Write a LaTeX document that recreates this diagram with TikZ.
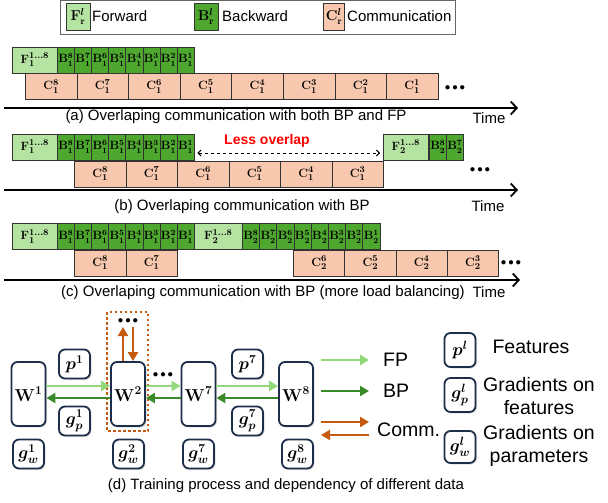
\documentclass[tikz,border=0pt]{standalone}
\usepackage{amsmath}
\usepackage{fontspec}
\newfontfamily\arialfont{Liberation Sans}
\usepackage{xcolor}
\usepackage{tikz}
\usetikzlibrary{arrows.meta, positioning, shadows}

\definecolor{fwdgreen}{HTML}{B5E3A2}
\definecolor{bwdgreen}{HTML}{4EA72E}
\definecolor{commsalmon}{HTML}{F7C8AE}
\definecolor{fparrow}{HTML}{92D87A}
\definecolor{bparrow}{HTML}{3B8A2A}
\definecolor{commorange}{HTML}{C55A11}
\definecolor{boxnavy}{HTML}{1C2E4A}

\begin{document}
\begin{tikzpicture}[
      x=1pt, y=-1pt,
      txt/.style={font=\arialfont\fontsize{15}{17}\selectfont, inner sep=0},
      bigtxt/.style={font=\arialfont\fontsize{19.5}{23}\selectfont, inner sep=0, align=center},
      slot/.style={draw=black!80, line width=0.6pt, minimum height=26, inner sep=0, anchor=west,
        font=\fontsize{12.5}{13}\selectfont\boldmath},
      fwdslot/.style={slot, fill=fwdgreen, minimum width=45},
      bwdslot/.style={slot, fill=bwdgreen, minimum width=17.1, font=\fontsize{11.5}{12}\selectfont\boldmath},
      comslot/.style={slot, fill=commsalmon, minimum width=51.5},
      dotsnode/.style={font=\fontsize{11}{11}\selectfont, inner sep=0},
      timeaxis/.style={line width=1.8pt, -{Straight Barb[length=6pt, width=13pt]}},
      gapline/.style={dashed, line width=1pt, {Straight Barb[length=3pt, width=6pt]}-{Straight Barb[length=3pt, width=6pt]}, shorten <=3pt, shorten >=3pt},
      wnode/.style={draw=boxnavy, line width=1.8pt, rounded corners=6pt, fill=white, minimum width=34,
        minimum height=64, inner sep=0, font=\fontsize{17.5}{18}\selectfont\boldmath,
        drop shadow={opacity=0.25, shadow xshift=1.5pt, shadow yshift=-1.5pt}},
      dnode/.style={wnode, minimum width=31, minimum height=29, font=\fontsize{16.5}{17}\selectfont\boldmath},
      fparr/.style={fparrow, line width=2.6pt, -{Triangle[length=9pt, width=10pt]}},
      bparr/.style={bparrow, line width=2.6pt, -{Triangle[length=9pt, width=10pt]}},
      commarr/.style={commorange, line width=2.6pt, -{Triangle[length=9pt, width=10pt]}},
      hlbox/.style={draw=commorange, line width=2.4pt, dash pattern=on 2.5pt off 2.5pt}
    ]
      \useasboundingbox (0,0) rectangle (608,503);

      % legend on top
      \node[draw=black!60, line width=0.8pt, minimum width=395, minimum height=34, inner sep=0] (legend) at (257.5,17) {};
      \node[fwdslot, anchor=center, minimum width=24, minimum height=27, font=\fontsize{14}{14}\selectfont\boldmath] (lg-f) at (78,16.5) {$\mathbf{F}_\mathrm{r}^{l}$};
      \node[txt, anchor=west] (lg-ftxt) at (92,16.5) {Forward};
      \node[bwdslot, anchor=center, minimum width=24, minimum height=27, font=\fontsize{14}{14}\selectfont\boldmath] (lg-b) at (206,16.5) {$\mathbf{B}_\mathrm{r}^{l}$};
      \node[txt, anchor=west] (lg-btxt) at (222,16.5) {Backward};
      \node[comslot, anchor=center, minimum width=21, minimum height=27, font=\fontsize{14}{14}\selectfont\boldmath] (lg-c) at (334,16.5) {$\mathbf{C}_\mathrm{r}^{l}$};
      \node[txt, anchor=west] (lg-ctxt) at (347,16.5) {Communication};

      % (a)
      \node[fwdslot] (a-f1) at (12,60) {$\mathbf{F}_1^{1\ldots8}$};
      \foreach \l [count=\k from 0] in {8,...,1}
        \node[bwdslot] (a-b\l) at (57+17.1*\k,60) {$\mathbf{B}_1^{\l}$};
      \foreach \l [count=\k from 0] in {8,...,1}
        \node[comslot] (a-c\l) at (25+51.6*\k,86.5) {$\mathbf{C}_1^{\l}$};
      \node[dotsnode] (a-dots) at (455,88) {${\bullet}\,{\bullet}\,{\bullet}$};
      \coordinate (a-t0) at (4,108);
      \coordinate (a-t1) at (518,108);
      \draw[timeaxis] (a-t0) -- (a-t1);
      \node[txt] (a-time) at (489,118) {Time};
      \node[txt] (a-cap) at (236,117) {(a) Overlaping communication with both BP and FP};

      % (b)
      \node[fwdslot] (b-f1) at (12,147) {$\mathbf{F}_1^{1\ldots8}$};
      \foreach \l [count=\k from 0] in {8,...,1}
        \node[bwdslot] (b-b\l) at (57+17.1*\k,147) {$\mathbf{B}_1^{\l}$};
      \node[fwdslot] (b-f2) at (383,147) {$\mathbf{F}_2^{1\ldots8}$};
      \node[bwdslot] (b-b28) at (429,147) {$\mathbf{B}_2^{8}$};
      \node[bwdslot] (b-b27) at (446,147) {$\mathbf{B}_2^{7}$};
      \foreach \l [count=\k from 0] in {8,...,3}
        \node[comslot] (b-c\l) at (74+51.5*\k,174) {$\mathbf{C}_1^{\l}$};
      \node[font=\arialfont\bfseries\fontsize{14}{16}\selectfont, text=red, inner sep=0] (b-less) at (267,141) {Less overlap};
      \draw[gapline] ([yshift=-6pt]b-b1.east) -- ([yshift=-6pt]b-f2.west);
      \node[dotsnode] (b-dots) at (480,170) {${\bullet}\,{\bullet}\,{\bullet}$};
      \coordinate (b-t0) at (4,190);
      \coordinate (b-t1) at (518,190);
      \draw[timeaxis] (b-t0) -- (b-t1);
      \node[txt] (b-time) at (488,206) {Time};
      \node[txt] (b-cap) at (242,207) {(b) Overlaping communication with BP};

      % (c)
      \node[fwdslot] (c-f1) at (12,236.5) {$\mathbf{F}_1^{1\ldots8}$};
      \foreach \l [count=\k from 0] in {8,...,1}
        \node[bwdslot] (c-b1\l) at (57+17.1*\k,236.5) {$\mathbf{B}_1^{\l}$};
      \node[fwdslot, minimum width=48] (c-f2) at (194,236.5) {$\mathbf{F}_2^{1\ldots8}$};
      \foreach \l [count=\k from 0] in {8,...,1}
        \node[bwdslot] (c-b2\l) at (242+17.2*\k,236.5) {$\mathbf{B}_2^{\l}$};
      \node[comslot] (c-c18) at (74,263) {$\mathbf{C}_1^{8}$};
      \node[comslot] (c-c17) at (125.5,263) {$\mathbf{C}_1^{7}$};
      \foreach \l [count=\k from 0] in {6,...,3}
        \node[comslot] (c-c2\l) at (293+51.3*\k,263) {$\mathbf{C}_2^{\l}$};
      \node[dotsnode] (c-dots) at (511,263) {${\bullet}\,{\bullet}\,{\bullet}$};
      \coordinate (c-t0) at (4,280);
      \coordinate (c-t1) at (520,280);
      \draw[timeaxis] (c-t0) -- (c-t1);
      \node[txt] (c-time) at (489,292) {Time};
      \node[txt] (c-cap) at (263,293) {(c) Overlaping communication with BP (more load balancing)};

      % (d)
      \draw[hlbox] (107,312) rectangle (148,431);
      \node[wnode] (w1) at (28.5,394) {$\mathbf{W}^1$};
      \node[wnode] (w2) at (128,394) {$\mathbf{W}^2$};
      \node[wnode] (w7) at (198.5,394) {$\mathbf{W}^7$};
      \node[wnode] (w8) at (296,394) {$\mathbf{W}^8$};
      \node[dnode] (p1) at (74.5,364) {$p^1$};
      \node[dnode] (gp1) at (74.5,421) {$g_p^1$};
      \node[dnode] (p7) at (247.5,364) {$p^7$};
      \node[dnode] (gp7) at (247.5,421) {$g_p^7$};
      \node[dnode] (gw1) at (28.5,454) {$g_w^1$};
      \node[dnode] (gw2) at (128.5,454) {$g_w^2$};
      \node[dnode] (gw7) at (198.5,454) {$g_w^7$};
      \node[dnode] (gw8) at (297.5,454) {$g_w^8$};
      \node[dotsnode] (w-dots) at (128,321) {${\bullet}\,{\bullet}\,{\bullet}$};
      \node[dotsnode] (mid-dots) at (163,375) {${\bullet}\,{\bullet}\,{\bullet}$};
      \coordinate (up-top) at (123,327);
      \coordinate (dn-top) at (133,327);
      \draw[commarr] ([xshift=-5pt]w2.north) -- (up-top);
      \draw[commarr] (dn-top) -- ([xshift=5pt]w2.north);
      \foreach \a/\b in {w1/w2, w2/w7, w7/w8} {
        \draw[fparr] ([yshift=8pt]\a.east) -- ([yshift=8pt]\b.west);
        \draw[bparr] ([yshift=-4pt]\b.west) -- ([yshift=-4pt]\a.east);
      }

      % legend of (d)
      \coordinate (fp0) at (321,360);
      \coordinate (fp1) at (369,360);
      \draw[fparr] (fp0) -- (fp1);
      \node[bigtxt, anchor=west] (fp-txt) at (383,360) {FP};
      \coordinate (bp0) at (321,391);
      \coordinate (bp1) at (369,391);
      \draw[bparr] (bp0) -- (bp1);
      \node[bigtxt, anchor=west] (bp-txt) at (383,391) {BP};
      \coordinate (cm0) at (321,422);
      \coordinate (cm1) at (369,422);
      \coordinate (cm2) at (369,435);
      \coordinate (cm3) at (321,435);
      \draw[commarr] (cm0) -- (cm1);
      \draw[commarr] (cm2) -- (cm3);
      \node[bigtxt, anchor=west] (cm-txt) at (377,430) {Comm.};
      \node[dnode, minimum height=34] (pl) at (460,350) {$p^l$};
      \node[dnode, minimum height=34] (gpl) at (460,395) {$g_p^l$};
      \node[dnode, minimum height=32] (gwl) at (460,447) {$g_w^l$};
      \node[bigtxt] (pl-txt) at (531,347) {Features};
      \node[bigtxt] (gpl-txt) at (539,396) {Gradients on\\features};
      \node[bigtxt] (gwl-txt) at (539,446) {Gradients on\\parameters};
      \node[txt] (d-cap) at (286,486) {(d) Training process and dependency of different data};
    \end{tikzpicture}
\end{document}
